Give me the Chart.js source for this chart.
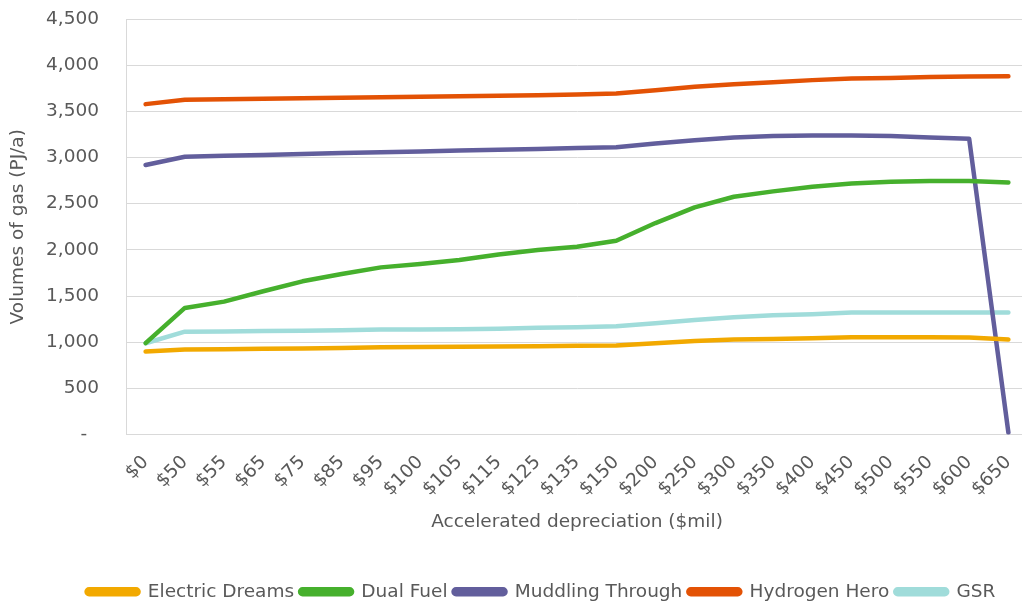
<!DOCTYPE html>
<html>
<head>
<meta charset="utf-8">
<script src="https://cdn.jsdelivr.net/npm/chart.js@4.4.1/dist/chart.umd.min.js"></script>
<style>
  html, body { margin: 0; padding: 0; background: #ffffff; overflow: hidden; }
  #wrap { position: absolute; left: 0; top: 0; width: 1082px; height: 611px; }
</style>
</head>
<body>
<div id="wrap"><canvas id="chart" width="1082" height="611"></canvas></div>
<script>
// Accelerated depreciation levels ($mil)
const categories = ['$0', '$50', '$55', '$65', '$75', '$85', '$95', '$100', '$105', '$115', '$125',
  '$135', '$150', '$200', '$250', '$300', '$350', '$400', '$450', '$500', '$550', '$600', '$650'];

// Gas volumes (PJ/a) per scenario
const electricDreams = [898, 920, 922, 928, 932, 936, 945, 947, 950, 952, 955, 960, 963,
  988, 1013, 1028, 1035, 1042, 1053, 1053, 1053, 1050, 1028];
const dualFuel = [990, 1371, 1439, 1551, 1659, 1738, 1810, 1847, 1890, 1950, 1998, 2034, 2099,
  2290, 2459, 2575, 2633, 2683, 2719, 2737, 2745, 2745, 2730];
const muddlingThrough = [2918, 3008, 3018, 3028, 3038, 3048, 3057, 3066, 3075, 3084, 3093, 3102, 3110,
  3152, 3188, 3217, 3232, 3239, 3239, 3232, 3217, 3203, 20];
const hydrogenHero = [3578, 3625, 3630, 3635, 3641, 3647, 3652, 3658, 3664, 3669, 3675, 3681, 3692,
  3729, 3765, 3794, 3816, 3838, 3855, 3862, 3873, 3877, 3881];
const gsr = [988, 1114, 1116, 1120, 1124, 1128, 1136, 1138, 1140, 1145, 1155, 1162, 1172,
  1204, 1241, 1269, 1291, 1302, 1320, 1320, 1320, 1320, 1320];

// Value axis ticks
const yMin = 0;
const yMax = 4500;
const yStep = 500;

const textColor = '#595959';
const gridColor = '#d9d9d9';
const fontFamily = '"DejaVu Sans", Verdana, sans-serif';
const fontSize = 18.5;

function series(label, data, color) {
  return {
    label: label,
    data: data,
    borderColor: color,
    backgroundColor: color,
    borderWidth: 4.5,
    borderCapStyle: 'round',
    borderJoinStyle: 'round',
    pointRadius: 0,
    pointHoverRadius: 0,
    tension: 0,
    fill: false
  };
}

new Chart(document.getElementById('chart'), {
  type: 'line',
  data: {
    labels: categories,
    datasets: [
      series('Electric Dreams', electricDreams, '#f2a900'),
      series('Dual Fuel', dualFuel, '#46b02d'),
      series('Muddling Through', muddlingThrough, '#625e9c'),
      series('Hydrogen Hero', hydrogenHero, '#e35205'),
      series('GSR', gsr, '#a0dcda')
    ]
  },
  options: {
    responsive: false,
    animation: false,
    events: [],
    layout: { padding: { left: 0, right: 0, top: 19, bottom: 0 } },
    font: { family: fontFamily, size: fontSize },
    plugins: {
      tooltip: { enabled: false },
      legend: {
        position: 'bottom',
        labels: {
          color: textColor,
          font: { family: fontFamily, size: fontSize },
          boxWidth: 52,
          boxHeight: 5,
          padding: 6,
          useBorderRadius: true,
          borderRadius: 2.5
        }
      }
    },
    scales: {
      x: {
        offset: true,
        grid: { display: false, drawTicks: false, offset: true },
        border: { display: true, color: gridColor, width: 1 },
        ticks: {
          color: textColor,
          font: { family: fontFamily, size: fontSize },
          autoSkip: false,
          minRotation: 45,
          maxRotation: 45,
          padding: 17
        },
        title: {
          display: true,
          text: 'Accelerated depreciation ($mil)',
          color: textColor,
          font: { family: fontFamily, size: fontSize },
          padding: { top: 4, bottom: 43 }
        },
        afterFit: function (scale) { scale.height = 142; }
      },
      y: {
        min: yMin,
        max: yMax,
        grid: { color: gridColor, lineWidth: 1, drawTicks: false },
        border: { display: true, color: gridColor, width: 1 },
        ticks: {
          stepSize: yStep,
          color: textColor,
          font: { family: fontFamily, size: fontSize },
          padding: 27,
          callback: function (v) {
            return v === 0 ? '-  ' : v.toLocaleString('en-US');
          }
        },
        title: {
          display: true,
          text: 'Volumes of gas (PJ/a)',
          color: textColor,
          font: { family: fontFamily, size: fontSize },
          padding: { top: 7, bottom: 4 }
        },
        afterFit: function (scale) {
          scale.width = 126;
          // the tick padding is horizontal only; keep it out of the vertical extent
          scale.paddingTop = 0;
          scale.paddingBottom = 0;
        }
      },
      // empty right-hand gutter beside the plot area
      gutter: {
        type: 'linear',
        position: 'right',
        display: true,
        grid: { display: false, drawTicks: false },
        border: { display: false },
        ticks: { display: false },
        afterFit: function (scale) {
          scale.width = 54;
          scale.paddingTop = 0;
          scale.paddingBottom = 0;
        }
      }
    }
  }
});
</script>
</body>
</html>
